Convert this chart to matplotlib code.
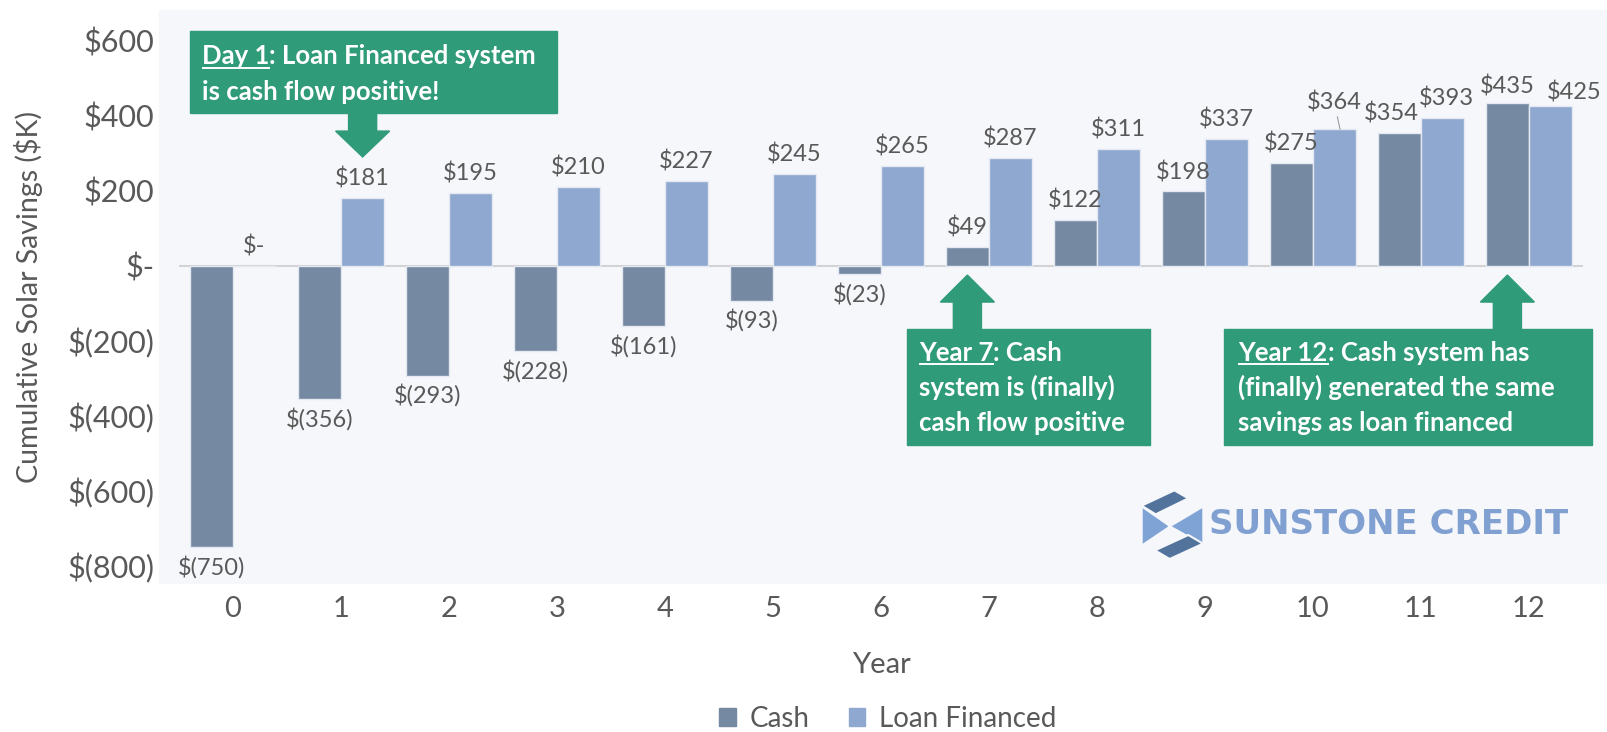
import matplotlib.pyplot as plt
import matplotlib.patches as mpatches
from matplotlib.lines import Line2D
import numpy as np

plt.rcParams['font.family'] = ['Lato', 'DejaVu Sans']

# data (thousands of $)
years = list(range(13))
cash = [-750, -356, -293, -228, -161, -93, -23, 49, 122, 198, 275, 354, 435]
loan = [0, 181, 195, 210, 227, 245, 265, 287, 311, 337, 364, 393, 425]
y_ticks = [600, 400, 200, 0, -200, -400, -600, -800]

CASH_C = '#7589a3'
LOAN_C = '#8fa8cf'
GREEN = '#2f9b78'
TXT = '#595959'
BG = '#f6f7fb'

W, H = 1608, 732


def money(v):
    if v > 0:
        return f'${v}'
    if v < 0:
        return f'$({-v})'
    return '$-'


def px(x, y):
    # pixel position (from top-left) -> figure fraction
    return (x / W, 1 - y / H)


fig = plt.figure(figsize=(W / 100, H / 100), dpi=100)
fig.patch.set_facecolor('white')
fig.add_artist(mpatches.Rectangle(px(159, 583), 1 - 159 / W, (583 - 10) / H,
                                  transform=fig.transFigure, color=BG, zorder=-5))

ax = fig.add_axes([179 / W, 1 - 565.7 / H, 1404 / W, 525 / H])
ax.set_facecolor('none')

x = np.array(years)
ax.bar(x - 0.2, cash, 0.4, color=CASH_C, edgecolor='#e3e8f1', linewidth=1, zorder=2)
ax.bar(x + 0.2, loan, 0.4, color=LOAN_C, edgecolor='#e3e8f1', linewidth=1, zorder=2)
ax.axhline(0, color='#d3d3d3', lw=1.5, zorder=1)

ax.set_xlim(-0.5, 12.5)
ax.set_ylim(-800, 600)

# value labels (a few are nudged like in the original)
LBL = 17
cash_off = {11: (-6, 6), 12: (0, 4)}
loan_off = {11: (3, 6), 12: (17, 2)}
for i, v in enumerate(cash):
    off = cash_off.get(i, (0, 6 if v >= 0 else -6))
    ax.annotate(money(v), (i - 0.2, v), xytext=off,
                textcoords='offset points', ha='center',
                va='bottom' if v >= 0 else 'top', fontsize=LBL, color=TXT)
for i, v in enumerate(loan):
    if i == 10:
        ax.annotate(money(v), (i + 0.25, v), xytext=(-4, 11),
                    textcoords='offset points', ha='center', va='bottom',
                    fontsize=LBL, color=TXT,
                    arrowprops=dict(arrowstyle='-', color='#9a9a9a', lw=0.8,
                                    shrinkA=0, shrinkB=0))
        continue
    ax.annotate(money(v), (i + 0.2, v), xytext=loan_off.get(i, (0, 6)),
                textcoords='offset points', ha='center', va='bottom',
                fontsize=LBL, color=TXT)

ax.set_xticks(years)
ax.set_yticks(y_ticks)
ax.set_yticklabels([money(v) for v in y_ticks])
ax.tick_params(axis='y', length=0, labelsize=22, labelcolor=TXT, pad=18)
ax.tick_params(axis='x', length=0, labelsize=21, labelcolor=TXT, pad=22)
for s in ax.spines.values():
    s.set_visible(False)

fig.text(*px(29, 297), 'Cumulative Solar Savings ($K)', rotation=90,
         ha='center', va='center', fontsize=20.5, color=TXT)
fig.text(*px(881, 665), 'Year', ha='center', va='center', fontsize=21, color=TXT)

# callout boxes
callouts = [
    dict(box=(-0.40, 3.0, 407, 626), arrow=(1.2, 407, 359, 290), tx=-0.29,
         lines=[('Day 1', ': Loan Financed system', 537), ('', 'is cash flow positive!', 441)]),
    dict(box=(6.24, 8.49, -478, -169), arrow=(6.8, -169, -97, -25), tx=6.35,
         lines=[('Year 7', ': Cash', -254), ('', 'system is (finally)', -347),
                ('', 'cash flow positive', -441)]),
    dict(box=(9.18, 12.58, -478, -169), arrow=(11.8, -169, -97, -25), tx=9.31,
         lines=[('Year 12', ': Cash system has', -254),
                ('', '(finally) generated the same', -347),
                ('', 'savings as loan financed', -441)]),
]

underlined = []
for c in callouts:
    x0, x1, y0, y1 = c['box']
    ax.add_patch(mpatches.Rectangle((x0, y0), x1 - x0, y1 - y0, color=GREEN,
                                    clip_on=False, zorder=4))
    ax_, base, head, tip = c['arrow']
    sw, hw = 0.13, 0.25
    ax.add_patch(mpatches.Polygon([(ax_ - sw, base), (ax_ - sw, head), (ax_ - hw, head),
                                   (ax_, tip), (ax_ + hw, head), (ax_ + sw, head),
                                   (ax_ + sw, base)], closed=True, color=GREEN,
                                  clip_on=False, zorder=4))
    for under, rest, yb in c['lines']:
        kw = dict(fontsize=18.5, fontweight='bold', color='white', zorder=5)
        if under:
            t = ax.text(c['tx'], yb, under, va='baseline', ha='left', **kw)
            ax.annotate(rest, xy=(1, 0), xycoords=t, va='bottom', ha='left', **kw)
            underlined.append((t, c['tx'], yb))
        else:
            ax.text(c['tx'], yb, rest, va='baseline', ha='left', **kw)

fig.canvas.draw()
r = fig.canvas.get_renderer()
for t, tx, yb in underlined:
    bb = t.get_window_extent(r)
    by = ax.transData.transform((tx, yb))[1] - 3.5
    p0 = fig.transFigure.inverted().transform((bb.x0 + 1, by))
    p1 = fig.transFigure.inverted().transform((bb.x1, by))
    fig.add_artist(Line2D([p0[0], p1[0]], [p0[1], p1[1]], color='white', lw=1.4,
                          transform=fig.transFigure, zorder=10))

# logo
dark, light = '#52739c', '#80a3d6'


def zpt(dx, dy):
    return px(1135 + dx / 3, 485 + dy / 3)


pieces = [
    ([(20, 64), (106, 124), (20, 182)], light),
    ([(205, 64), (205, 180), (104, 124)], light),
    ([(20, 62), (118, 16), (160, 40), (62, 88)], dark),
    ([(60, 196), (160, 150), (204, 176), (104, 222)], dark),
]
for pts, col in pieces:
    fig.add_artist(mpatches.Polygon([zpt(*p) for p in pts], closed=True, facecolor=col,
                                    edgecolor=BG, lw=1.5, transform=fig.transFigure))
fig.text(*px(1209, 524), 'SUNSTONE CREDIT', fontsize=24.5, fontweight='bold',
         family='DejaVu Sans', color='#7fa0d0', ha='left', va='center')

handles = [mpatches.Patch(color=CASH_C, label='Cash'),
           mpatches.Patch(color=LOAN_C, label='Loan Financed')]
fig.legend(handles=handles, loc='center', bbox_to_anchor=px(888, 719), ncol=2,
           frameon=False, fontsize=20, handlelength=0.6, handleheight=0.6,
           handletextpad=0.5, columnspacing=1.4, labelcolor=TXT)

fig.savefig('out.png', dpi=100, facecolor='white')
